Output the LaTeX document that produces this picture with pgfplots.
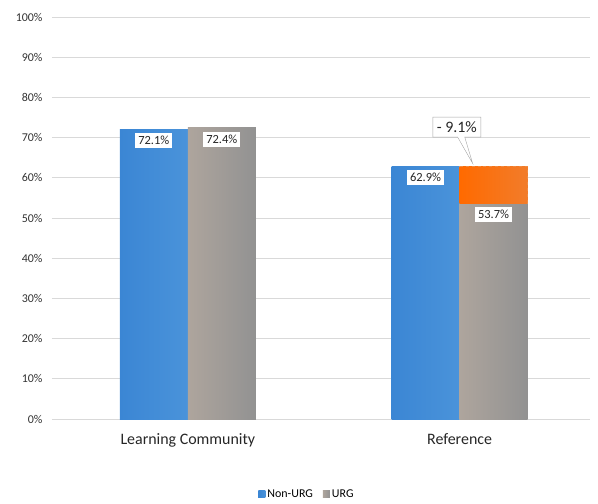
\documentclass[border=0pt]{standalone}
\usepackage{pgfplots}
\pgfplotsset{compat=1.18}
\usepackage{fontspec}
\setmainfont{Carlito}
\usetikzlibrary{shapes.callouts}
\definecolor{nonurg}{HTML}{428DD8}
\definecolor{nonurgA}{HTML}{3B86D4}
\definecolor{nonurgB}{HTML}{5C9EDE}
\definecolor{nonurgC}{HTML}{4A93DA}
\definecolor{urg}{HTML}{939393}
\definecolor{urgA}{HTML}{AEA59D}
\definecolor{urgB}{HTML}{929292}
\definecolor{gapA}{HTML}{FF6A00}
\definecolor{gapB}{HTML}{F27C2A}
\definecolor{gapline}{HTML}{F08A40}
\definecolor{gridc}{HTML}{D9D9D9}
\pgfplotsset{
  nonurgbar/.style={ybar, bar shift=-0.125, draw=none, left color=nonurgA, middle color=nonurgB, right color=nonurgC,
    nodes near coords={\pgfmathprintnumber[fixed,fixed zerofill,precision=1]{\pgfplotspointmeta}\%},
    every node near coord/.append style={xshift=-34bp},
    legend image code/.code={\fill[nonurg] (0bp,-3.5bp) rectangle (7bp,3.5bp);}},
  urgbar/.style={ybar, bar shift=0.125, draw=none, left color=urgA, right color=urgB,
    nodes near coords={\pgfmathprintnumber[fixed,fixed zerofill,precision=1]{\pgfplotspointmeta}\%},
    every node near coord/.append style={xshift=34bp},
    legend image code/.code={\fill[urg] (0bp,-3.5bp) rectangle (7bp,3.5bp);}},
}
\begin{document}
\begin{tikzpicture}[x=1bp,y=1bp]
\begin{axis}[
  name=ax,
  scale only axis,
  width=538bp, height=402bp,
  xmin=-0.5, xmax=1.48,
  ymin=0, ymax=100,
  ytick={0,10,...,100},
  yticklabel={\pgfmathprintnumber{\tick}\%},
  /pgf/number format/assume math mode=true,
  yticklabel style={font=\fontsize{12}{14}\selectfont, text=black!80, xshift=-6bp},
  xtick={0,1},
  xticklabels={Learning Community, Reference},
  xticklabel style={font=\fontsize{16}{19}\selectfont, text=black!85, yshift=-11bp},
  major tick length=0pt,
  ymajorgrids,
  grid style={gridc, line width=0.8pt},
  axis line style={draw=none},
  bar width=0.25,
  legend style={at={(0.474,-0.187)}, anchor=center, draw=none, legend columns=2,
    font=\fontsize{12}{14}\selectfont, /tikz/every even column/.append style={column sep=8bp}},
  every node near coord/.append style={font=\fontsize{12.5}{15}\selectfont, text=black!85, fill=white, inner xsep=3bp, inner ysep=3bp, anchor=north, yshift=-4bp},
]
\addplot[nonurgbar] coordinates {(0,72.1)};
\addlegendentry{Non-URG}
\addplot[urgbar] coordinates {(0,72.4)};
\addlegendentry{URG}
\addplot[nonurgbar, forget plot] coordinates {(1,62.9)};
\addplot[urgbar, forget plot] coordinates {(1,53.7)};
% gap bar between URG and Non-URG at Reference
\addplot[left color=gapA, right color=gapB, draw=none, forget plot]
  coordinates {(1,53.7) (1.25,53.7) (1.25,62.9) (1,62.9)} -- cycle;
\addplot[draw=gapline, dashed, line width=1pt, forget plot]
  coordinates {(1,62.9) (1.25,62.9) (1.25,53.7)};
\node[rectangle callout, draw=gray!70, fill=white, font=\fontsize{16}{19}\selectfont, text=black!85, inner xsep=4bp, inner ysep=4.5bp,
  callout absolute pointer={(axis cs:1.048,63.6)}] at (axis cs:0.99,72.6) {- 9.1\%};
\end{axis}
\pgfresetboundingbox
\path ([xshift=-52bp,yshift=-85bp]ax.south west) rectangle ([xshift=8bp,yshift=17bp]ax.north east);
\end{tikzpicture}
\end{document}
